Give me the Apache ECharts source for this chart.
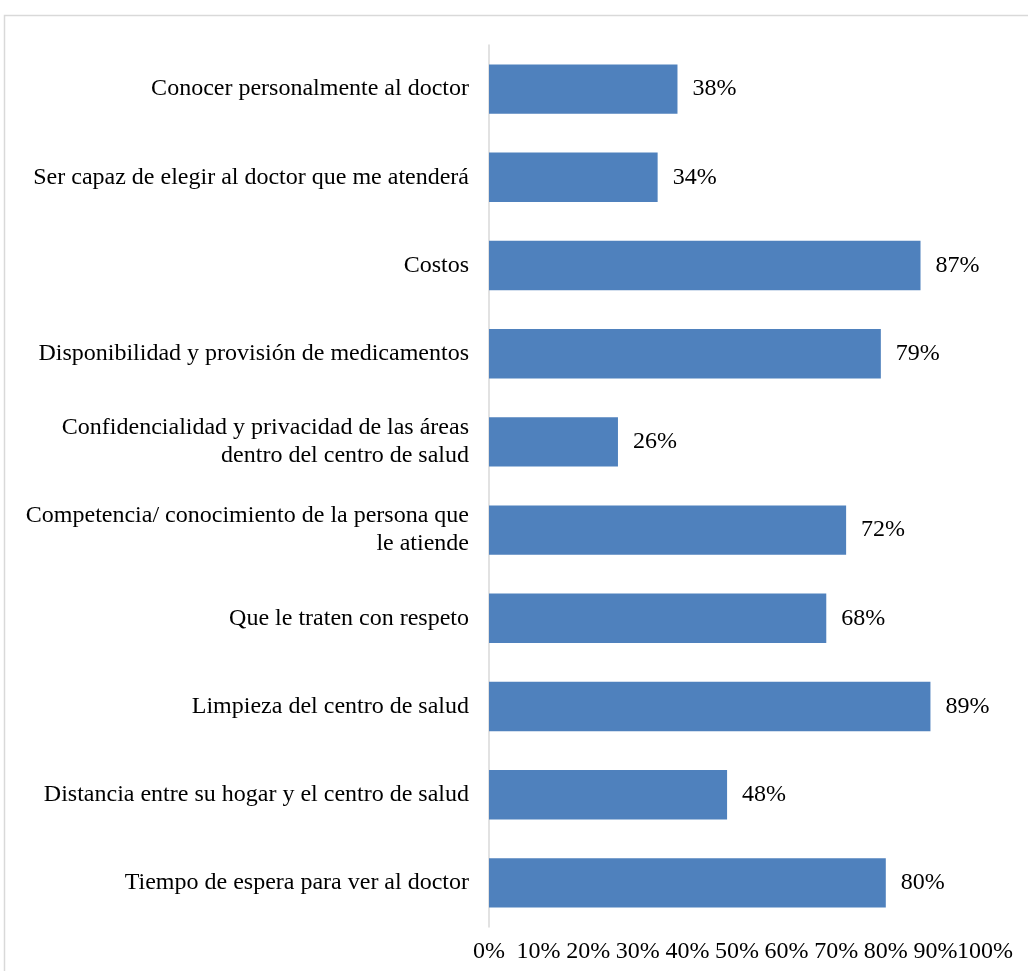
<!DOCTYPE html>
<html>
<head>
<meta charset="utf-8">
<script src="https://cdn.jsdelivr.net/npm/echarts@6/dist/echarts.min.js"></script>
<style>
  html, body { margin: 0; padding: 0; background: #fff; }
  #myChart { width: 1028px; height: 971px; }
</style>
</head>
<body>
<div id="myChart"></div>
<script>
// categorías de arriba hacia abajo
const categories = [
  "Conocer personalmente al doctor",
  "Ser capaz de elegir al doctor que me atenderá",
  "Costos",
  "Disponibilidad y provisión de medicamentos",
  "Confidencialidad y privacidad de las áreas\ndentro del centro de salud",
  "Competencia/ conocimiento de la persona que\nle atiende",
  "Que le traten con respeto",
  "Limpieza del centro de salud",
  "Distancia entre su hogar y el centro de salud",
  "Tiempo de espera para ver al doctor"
];
const values = [38, 34, 87, 79, 26, 72, 68, 89, 48, 80];
const xTicks = [0, 10, 20, 30, 40, 50, 60, 70, 80, 90, 100];

const fontFamily = "'Liberation Serif', 'Times New Roman', serif";
const xMin = xTicks[0];
const xMax = xTicks[xTicks.length - 1];

let myChart = echarts.init(document.getElementById("myChart"));

// eje x base (sin línea); el segundo eje sólo pinta la etiqueta del máximo
// para que "90%" y "100%" no se oculten por solaparse
function xAxisBase(onlyMax) {
  return {
    type: "value",
    position: "bottom",
    min: xMin,
    max: xMax,
    interval: 10,
    axisLine: { show: false },
    axisTick: { show: false },
    splitLine: { show: false },
    axisLabel: {
      color: "#000",
      fontSize: 24,
      fontFamily: fontFamily,
      margin: 13,
      showMinLabel: true,
      showMaxLabel: onlyMax,
      hideOverlap: false,
      formatter: v => {
        if (onlyMax) return v === xMax ? v + "%" : "";
        return v === xMax ? "" : v + "%";
      }
    }
  };
}

let option = {
  backgroundColor: "#fff",
  animation: false,
  textStyle: { fontFamily: fontFamily },
  graphic: [
    {
      type: "rect",
      shape: { x: 4.5, y: 15.5, width: 1100, height: 1000 },
      style: { fill: "none", stroke: "#d9d9d9", lineWidth: 1.5 },
      silent: true
    }
  ],
  grid: {
    left: 489,
    right: 43,
    top: 45,
    bottom: 44
  },
  xAxis: [xAxisBase(false), xAxisBase(true)],
  yAxis: {
    type: "category",
    inverse: true,
    data: categories,
    axisLine: {
      show: true,
      lineStyle: { color: "#d9d9d9", width: 1.5 }
    },
    axisTick: { show: false },
    axisLabel: {
      color: "#000",
      fontSize: 24,
      fontFamily: fontFamily,
      margin: 20,
      lineHeight: 28,
      align: "right"
    }
  },
  series: [
    {
      type: "bar",
      xAxisIndex: 0,
      data: values,
      barCategoryGap: "44%",
      itemStyle: { color: "#4f81bd" },
      label: {
        show: true,
        position: "right",
        distance: 15,
        color: "#000",
        fontSize: 24,
        fontFamily: fontFamily,
        formatter: "{c}%"
      }
    }
  ]
};

myChart.setOption(option, true);
</script>
</body>
</html>
